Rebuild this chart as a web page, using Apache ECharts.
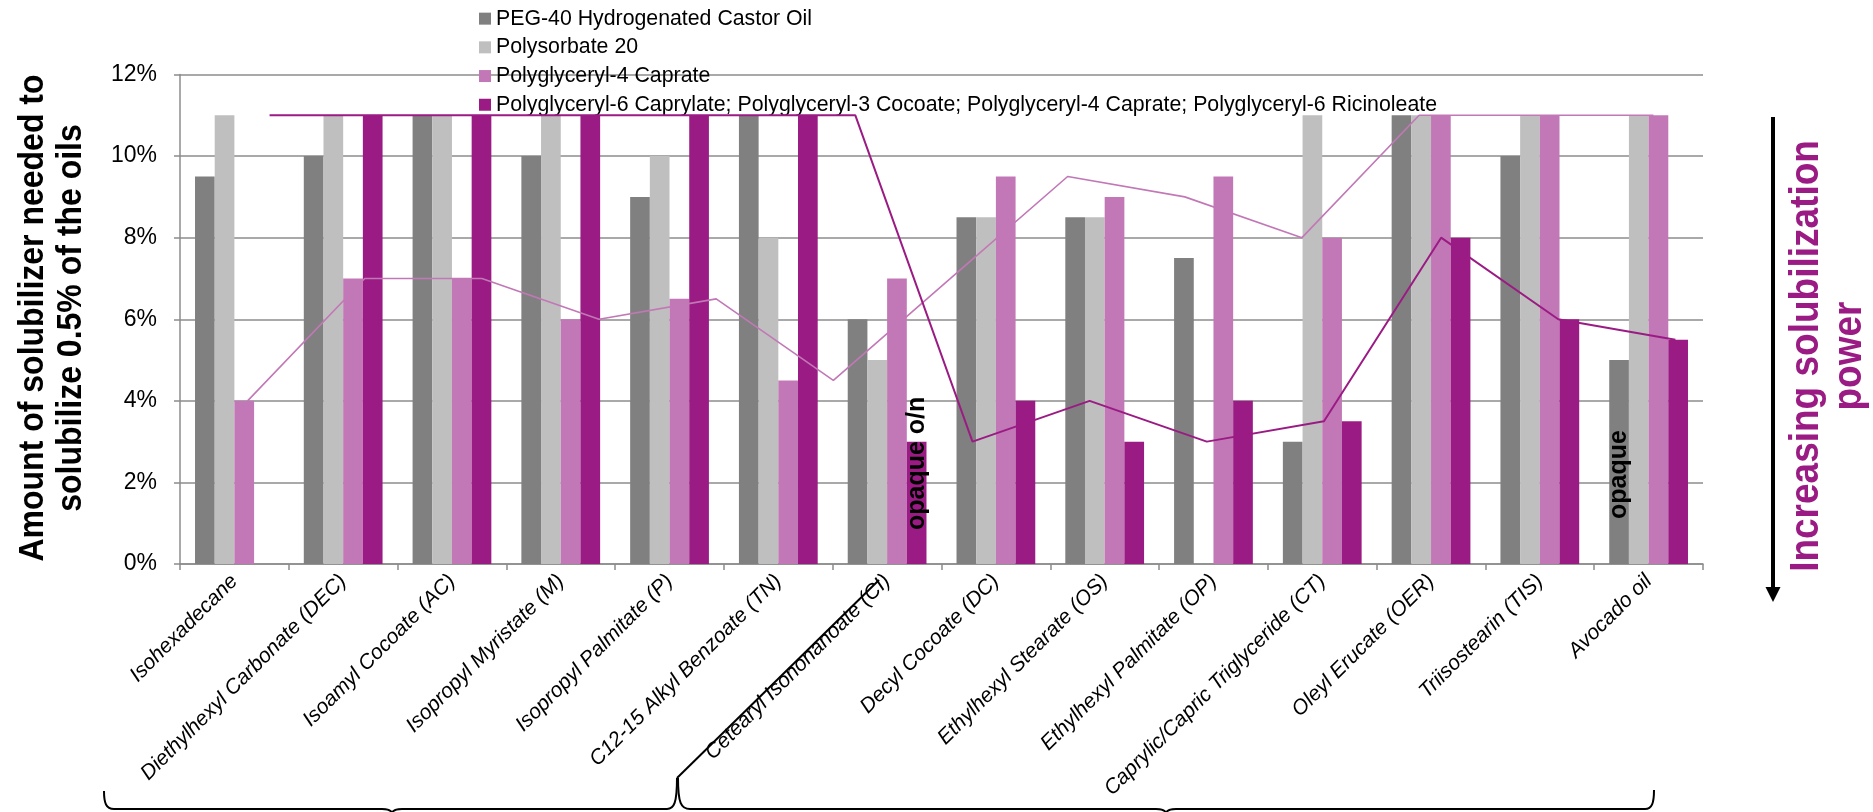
<!DOCTYPE html>
<html>
<head>
<meta charset="utf-8">
<script src="https://cdn.jsdelivr.net/npm/echarts@6/dist/echarts.min.js"></script>
<style>
  html, body { margin: 0; padding: 0; background: #ffffff; }
  #chart { width: 1873px; height: 812px; }
</style>
</head>
<body>
<div id="chart"></div>
<script>
// Oils tested (bar categories)
const oils = [
  'Isohexadecane',
  'Diethylhexyl Carbonate (DEC)',
  'Isoamyl Cocoate (AC)',
  'Isopropyl Myristate (M)',
  'Isopropyl Palmitate (P)',
  'C12-15 Alkyl Benzoate (TN)',
  'Cetearyl Isononanoate (CI)',
  'Decyl Cocoate (DC)',
  'Ethylhexyl Stearate (OS)',
  'Ethylhexyl Palmitate (OP)',
  'Caprylic/Capric Triglyceride (CT)',
  'Oleyl Erucate (OER)',
  'Triisostearin (TIS)',
  'Avocado oil'
];

// Solubilizer names (legend)
const solubilizers = [
  'PEG-40 Hydrogenated Castor Oil',
  'Polysorbate 20',
  'Polyglyceryl-4 Caprate',
  'Polyglyceryl-6 Caprylate; Polyglyceryl-3 Cocoate; Polyglyceryl-4 Caprate; Polyglyceryl-6 Ricinoleate'
];

// Amount of solubilizer (%) needed to solubilize 0.5% oil; 11 = not solubilized at 10%
const peg40 = [9.5, 10, 11, 10, 9, 11, 6, 8.5, 8.5, 7.5, 3, 11, 10, 5];
const polysorbate20 = [11, 11, 11, 11, 10, 8, 5, 8.5, 8.5, null, 11, 11, 11, 11];
const pg4Caprate = [4, 7, 7, 6, 6.5, 4.5, 7, 9.5, 9, 9.5, 8, 11, 11, 11];
const pgBlend = [null, 11, 11, 11, 11, 11, 3, 4, 3, 4, 3.5, 8, 6, 5.5];

// Trend lines over the earlier 13-oil series (no Ethylhexyl Palmitate)
const lineOils = [
  'Isohexadecane', 'Diethylhexyl Carbonate (DEC)', 'Isoamyl Cocoate (AC)',
  'Isopropyl Myristate (M)', 'Isopropyl Palmitate (P)', 'C12-15 Alkyl Benzoate (TN)',
  'Cetearyl Isononanoate (CI)', 'Decyl Cocoate (DC)', 'Ethylhexyl Stearate (OS)',
  'Caprylic/Capric Triglyceride (CT)', 'Oleyl Erucate (OER)', 'Triisostearin (TIS)',
  'Avocado oil'
];
const pg4CaprateTrend = [4, 7, 7, 6, 6.5, 4.5, 7, 9.5, 9, 8, 11, 11, 11];
const pgBlendTrend = [11, 11, 11, 11, 11, 11, 3, 4, 3, 3.5, 8, 6, 5.5];

// Value axis
const yMin = 0, yMax = 12, yStep = 2;

// Notes written on single bars
const notes = [
  { series: 3, oil: 'Cetearyl Isononanoate (CI)', text: 'opaque o/n', lift: 34 },
  { series: 0, oil: 'Avocado oil', text: 'opaque', lift: 45 }
];

const colors = ['#808080', '#bfbfbf', '#c278b6', '#9b1b84'];
const FONT = '"Liberation Sans", Arial, sans-serif';

function withNotes(values, seriesIndex) {
  return values.map((v, i) => {
    const note = notes.find(n => n.series === seriesIndex && n.oil === oils[i]);
    if (!note) return v;
    return {
      value: v,
      label: {
        show: true,
        position: 'insideBottom',
        distance: note.lift,
        rotate: 90,
        align: 'left',
        verticalAlign: 'middle',
        formatter: note.text,
        fontFamily: FONT,
        fontWeight: 'bold',
        fontSize: 25,
        color: '#000000'
      }
    };
  });
}

const barValues = [peg40, polysorbate20, pg4Caprate, pgBlend];

// Brace outlines: 'L' = straight piece, 'C' = curved corner/tip
const braceSegments = [
  ['C', 104, 791, 104, 803, 106, 809, 114, 809],
  ['L', 114, 809, 382, 809],
  ['C', 382, 809, 388, 809, 391, 810, 392, 813],
  ['C', 392, 813, 393, 810, 396, 809, 402, 809],
  ['L', 402, 809, 667, 809],
  ['C', 667, 809, 674, 809, 677, 803, 677, 778],
  ['L', 677, 778, 879, 580],
  ['C', 678, 778, 678, 803, 681, 809, 690, 809],
  ['L', 690, 809, 1156, 809],
  ['C', 1156, 809, 1162, 809, 1165, 810, 1166, 813],
  ['C', 1166, 813, 1167, 810, 1170, 809, 1176, 809],
  ['L', 1176, 809, 1645, 809],
  ['C', 1645, 809, 1652, 809, 1654, 803, 1654, 790]
];

const braceStyle = { stroke: '#000000', lineWidth: 2, fill: null };
const braceElements = braceSegments.map(s => s[0] === 'L'
  ? { type: 'line', shape: { x1: s[1], y1: s[2], x2: s[3], y2: s[4] }, style: braceStyle }
  : { type: 'bezierCurve', shape: { x1: s[1], y1: s[2], cpx1: s[3], cpy1: s[4], cpx2: s[5], cpy2: s[6], x2: s[7], y2: s[8] }, style: braceStyle }
);

const gridBox = { top: 74.5, height: 489.5, width: 1523 };

const chart = echarts.init(document.getElementById('chart'), null, { renderer: 'canvas' });

const option = {
  animation: false,
  backgroundColor: '#ffffff',
  textStyle: { fontFamily: FONT },
  legend: {
    data: solubilizers,
    orient: 'vertical',
    left: 474,
    top: 3,
    itemWidth: 12,
    itemHeight: 12,
    itemGap: 7.4,
    icon: 'rect',
    textStyle: { fontFamily: FONT, fontSize: 21.3, color: '#000000', lineHeight: 21.3 }
  },
  grid: [
    Object.assign({ left: 180 }, gridBox),
    Object.assign({ left: 189 }, gridBox),
    Object.assign({ left: 211 }, gridBox)
  ],
  xAxis: [
    {
      gridIndex: 0,
      type: 'category',
      data: oils,
      axisLine: { show: true, lineStyle: { color: '#8c8c8c', width: 1.5 } },
      axisTick: { show: true, length: 6, lineStyle: { color: '#8c8c8c', width: 1.5 } },
      axisLabel: {
        interval: 0,
        rotate: 45,
        margin: 14,
        fontFamily: FONT,
        fontStyle: 'italic',
        fontSize: 21,
        color: '#000000'
      }
    },
    { gridIndex: 1, type: 'category', data: lineOils, show: false },
    { gridIndex: 2, type: 'category', data: lineOils, show: false }
  ],
  yAxis: [
    {
      gridIndex: 0,
      type: 'value',
      min: yMin,
      max: yMax,
      interval: yStep,
      axisLine: { show: true, lineStyle: { color: '#8c8c8c', width: 1.5 } },
      axisTick: { show: true, length: 6, lineStyle: { color: '#8c8c8c', width: 1.5 } },
      splitLine: { show: true, lineStyle: { color: '#8c8c8c', width: 1.5 } },
      axisLabel: {
        formatter: '{value}%',
        margin: 23,
        fontFamily: FONT,
        fontSize: 23,
        color: '#000000'
      }
    },
    { gridIndex: 1, type: 'value', min: yMin, max: yMax, show: false },
    { gridIndex: 2, type: 'value', min: yMin, max: yMax, show: false }
  ],
  series: [
    ...barValues.map((vals, si) => ({
      name: solubilizers[si],
      type: 'bar',
      xAxisIndex: 0,
      yAxisIndex: 0,
      data: withNotes(vals, si),
      barGap: '0%',
      barCategoryGap: '27.6%',
      itemStyle: { color: colors[si] },
      z: 2
    })),
    {
      name: 'Polyglyceryl-4 Caprate trend',
      type: 'line',
      xAxisIndex: 1,
      yAxisIndex: 1,
      data: pg4CaprateTrend,
      symbol: 'none',
      lineStyle: { color: colors[2], width: 1.6 },
      z: 5
    },
    {
      name: 'Polyglyceryl blend trend',
      type: 'line',
      xAxisIndex: 2,
      yAxisIndex: 2,
      data: pgBlendTrend,
      symbol: 'none',
      lineStyle: { color: colors[3], width: 2 },
      z: 5
    }
  ],
  graphic: [
    // Value axis title
    {
      type: 'text',
      x: 52,
      y: 318,
      rotation: Math.PI / 2,
      scaleY: 1.12,
      style: {
        text: 'Amount of solubilizer needed to\nsolubilize 0.5% of the oils',
        font: 'bold 32px ' + FONT,
        fill: '#000000',
        textAlign: 'center',
        textVerticalAlign: 'middle',
        lineHeight: 34
      }
    },
    // Arrow: increasing solubilization power
    {
      type: 'line',
      shape: { x1: 1773, y1: 117, x2: 1773, y2: 590 },
      style: { stroke: '#000000', lineWidth: 4 }
    },
    {
      type: 'polygon',
      shape: { points: [[1765.5, 587], [1780.5, 587], [1773, 602]] },
      style: { fill: '#000000' }
    },
    {
      type: 'text',
      x: 1828,
      y: 356,
      rotation: Math.PI / 2,
      scaleY: 1.12,
      style: {
        text: 'Increasing solubilization\npower',
        font: 'bold 37px ' + FONT,
        fill: '#9b1b84',
        textAlign: 'center',
        textVerticalAlign: 'middle',
        lineHeight: 38
      }
    },
    // Group braces under the oil names
    ...braceElements
  ]
};

chart.setOption(option);
</script>
</body>
</html>
